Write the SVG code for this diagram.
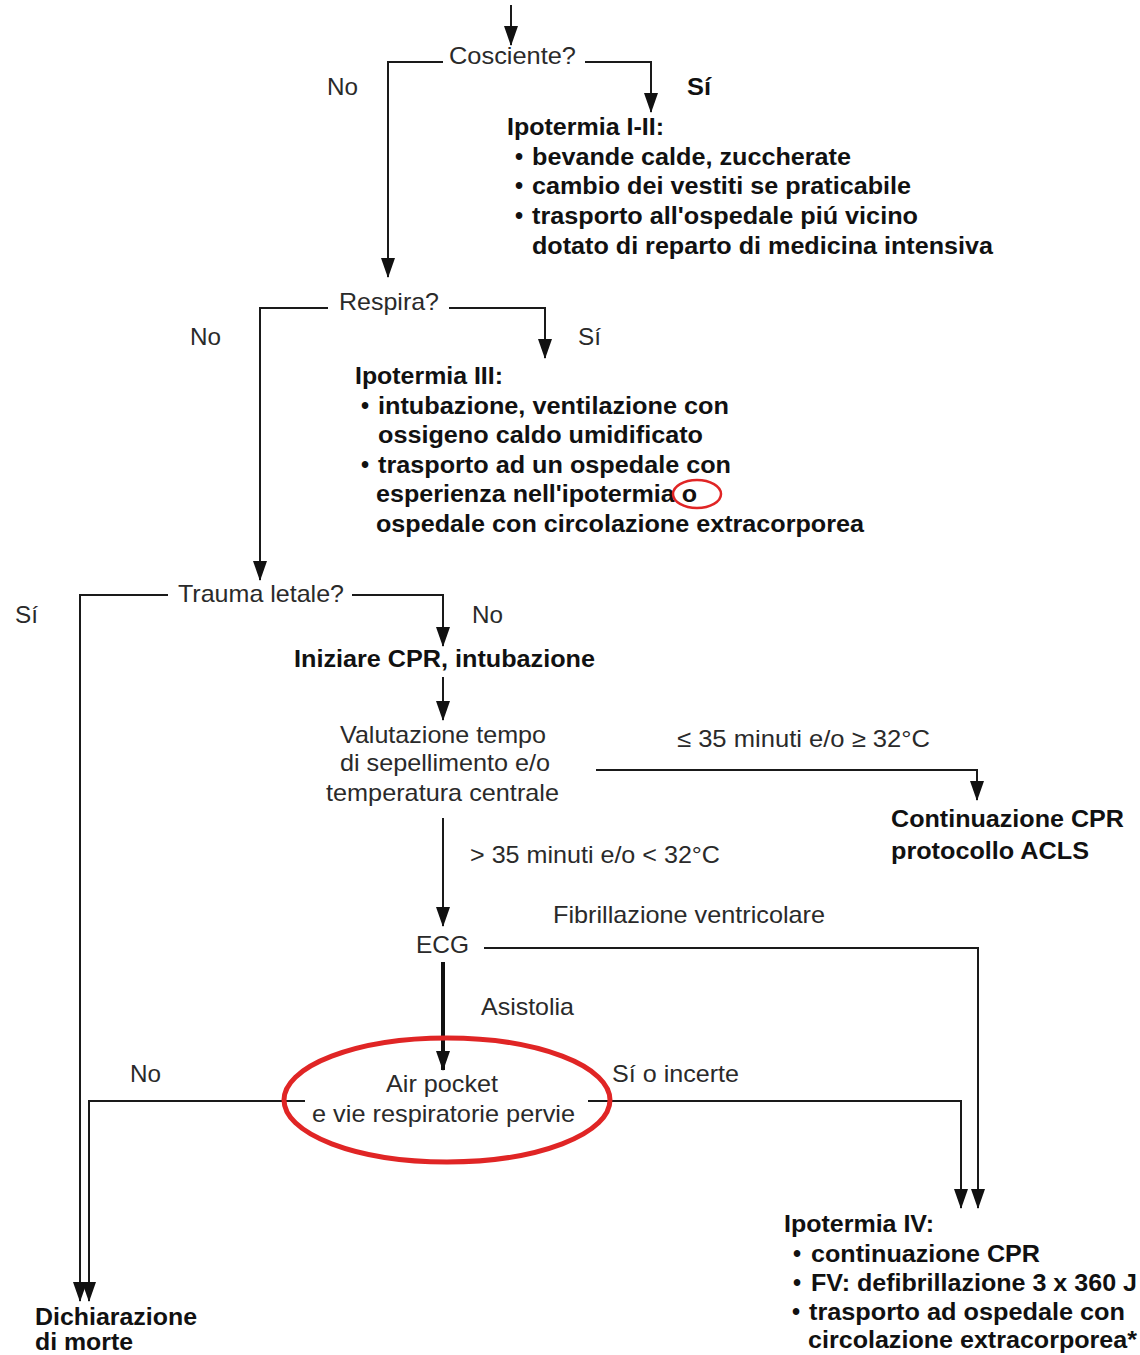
<svg xmlns="http://www.w3.org/2000/svg" width="1140" height="1355" viewBox="0 0 1140 1355">
<style>
.r{font-family:"Liberation Sans",Arial,sans-serif;font-size:24px;fill:#2a2a2a}
.b{font-family:"Liberation Sans",Arial,sans-serif;font-size:23px;font-weight:bold;fill:#111}
.c{fill:none;stroke:#1a1a1a;stroke-width:2}
.t{fill:none;stroke:#111;stroke-width:4}
.red{fill:none;stroke:#e02525}
</style>
<defs>
<marker id="ah" viewBox="0 0 20 14" refX="19" refY="7" markerWidth="20" markerHeight="14" markerUnits="userSpaceOnUse" orient="auto">
<path d="M0,0 L20,7 L0,14 z" fill="#111"/>
</marker>
</defs>
<rect width="1140" height="1355" fill="#fff"/>

<g id="connectors">
<path class="c" d="M511,5 V45" marker-end="url(#ah)"/>
<path class="c" d="M443,62 H388 V277" marker-end="url(#ah)"/>
<path class="c" d="M585,62 H651 V112" marker-end="url(#ah)"/>
<path class="c" d="M328,308 H260 V580" marker-end="url(#ah)"/>
<path class="c" d="M449,308 H545 V358" marker-end="url(#ah)"/>
<path class="c" d="M168,595 H80 V1301" marker-end="url(#ah)"/>
<path class="c" d="M352,595 H443 V646" marker-end="url(#ah)"/>
<path class="c" d="M443,677 V720" marker-end="url(#ah)"/>
<path class="c" d="M596,770 H977 V800" marker-end="url(#ah)"/>
<path class="c" d="M443,818 V926" marker-end="url(#ah)"/>
<path class="c" d="M484,948 H978 V1208" marker-end="url(#ah)"/>
<path class="t" d="M443,962 V1070" marker-end="url(#ah)"/>
<path class="c" d="M305,1101 H89 V1301" marker-end="url(#ah)"/>
<path class="c" d="M588,1101 H961 V1208" marker-end="url(#ah)"/>
</g>

<g id="cosciente"><text class="r" x="449" y="64" textLength="127" lengthAdjust="spacingAndGlyphs">Cosciente?</text></g>
<g id="label-cosciente-no"><text class="r" x="327" y="95" textLength="31" lengthAdjust="spacingAndGlyphs">No</text></g>
<g id="label-cosciente-si"><text class="b" x="687" y="95" textLength="24" lengthAdjust="spacingAndGlyphs">Sí</text></g>

<g id="ipotermia-1-2">
<text class="b" x="507" y="135" textLength="157" lengthAdjust="spacingAndGlyphs">Ipotermia I-II:</text>
<text class="b" x="515" y="165">•</text>
<text class="b" x="532" y="165" textLength="319" lengthAdjust="spacingAndGlyphs">bevande calde, zuccherate</text>
<text class="b" x="515" y="194">•</text>
<text class="b" x="532" y="194" textLength="379" lengthAdjust="spacingAndGlyphs">cambio dei vestiti se praticabile</text>
<text class="b" x="515" y="224">•</text>
<text class="b" x="532" y="224" textLength="386" lengthAdjust="spacingAndGlyphs">trasporto all'ospedale piú vicino</text>
<text class="b" x="532" y="254" textLength="461" lengthAdjust="spacingAndGlyphs">dotato di reparto di medicina intensiva</text>
</g>

<g id="respira"><text class="r" x="339" y="310" textLength="100" lengthAdjust="spacingAndGlyphs">Respira?</text></g>
<g id="label-respira-no"><text class="r" x="190" y="345" textLength="31" lengthAdjust="spacingAndGlyphs">No</text></g>
<g id="label-respira-si"><text class="r" x="578" y="345" textLength="23" lengthAdjust="spacingAndGlyphs">Sí</text></g>

<g id="ipotermia-3">
<text class="b" x="355" y="384" textLength="148" lengthAdjust="spacingAndGlyphs">Ipotermia III:</text>
<text class="b" x="361" y="414">•</text>
<text class="b" x="378" y="414" textLength="351" lengthAdjust="spacingAndGlyphs">intubazione, ventilazione con</text>
<text class="b" x="378" y="443" textLength="325" lengthAdjust="spacingAndGlyphs">ossigeno caldo umidificato</text>
<text class="b" x="361" y="473">•</text>
<text class="b" x="378" y="473" textLength="353" lengthAdjust="spacingAndGlyphs">trasporto ad un ospedale con</text>
<text class="b" x="376" y="502" textLength="321" lengthAdjust="spacingAndGlyphs">esperienza nell'ipotermia o</text>
<text class="b" x="376" y="532" textLength="488" lengthAdjust="spacingAndGlyphs">ospedale con circolazione extracorporea</text>
<ellipse class="red" cx="697" cy="494" rx="24" ry="14" stroke-width="2.5"/>
</g>

<g id="trauma"><text class="r" x="178" y="602" textLength="166" lengthAdjust="spacingAndGlyphs">Trauma letale?</text></g>
<g id="label-trauma-si"><text class="r" x="15" y="623" textLength="23" lengthAdjust="spacingAndGlyphs">Sí</text></g>
<g id="label-trauma-no"><text class="r" x="472" y="623" textLength="31" lengthAdjust="spacingAndGlyphs">No</text></g>

<g id="iniziare-cpr"><text class="b" x="294" y="667" textLength="301" lengthAdjust="spacingAndGlyphs">Iniziare CPR, intubazione</text></g>

<g id="valutazione">
<text class="r" x="340" y="743" textLength="206" lengthAdjust="spacingAndGlyphs">Valutazione tempo</text>
<text class="r" x="340" y="771" textLength="210" lengthAdjust="spacingAndGlyphs">di sepellimento e/o</text>
<text class="r" x="326" y="801" textLength="233" lengthAdjust="spacingAndGlyphs">temperatura centrale</text>
</g>
<g id="label-le35"><text class="r" x="677" y="747" textLength="253" lengthAdjust="spacingAndGlyphs">≤ 35 minuti e/o ≥ 32°C</text></g>

<g id="continuazione-cpr">
<text class="b" x="891" y="827" textLength="233" lengthAdjust="spacingAndGlyphs">Continuazione CPR</text>
<text class="b" x="891" y="859" textLength="198" lengthAdjust="spacingAndGlyphs">protocollo ACLS</text>
</g>

<g id="label-gt35"><text class="r" x="470" y="863" textLength="250" lengthAdjust="spacingAndGlyphs">&gt; 35 minuti e/o &lt; 32°C</text></g>
<g id="label-fv"><text class="r" x="553" y="923" textLength="272" lengthAdjust="spacingAndGlyphs">Fibrillazione ventricolare</text></g>

<g id="ecg"><text class="r" x="416" y="953" textLength="53" lengthAdjust="spacingAndGlyphs">ECG</text></g>
<g id="label-asistolia"><text class="r" x="481" y="1015" textLength="93" lengthAdjust="spacingAndGlyphs">Asistolia</text></g>

<g id="label-air-no"><text class="r" x="130" y="1082" textLength="31" lengthAdjust="spacingAndGlyphs">No</text></g>
<g id="label-air-si"><text class="r" x="612" y="1082" textLength="127" lengthAdjust="spacingAndGlyphs">Sí o incerte</text></g>

<g id="air-pocket">
<text class="r" x="386" y="1092" textLength="112" lengthAdjust="spacingAndGlyphs">Air pocket</text>
<text class="r" x="312" y="1122" textLength="263" lengthAdjust="spacingAndGlyphs">e vie respiratorie pervie</text>
<ellipse class="red" cx="447" cy="1100" rx="163" ry="62" stroke-width="5"/>
</g>

<g id="ipotermia-4">
<text class="b" x="784" y="1232" textLength="150" lengthAdjust="spacingAndGlyphs">Ipotermia IV:</text>
<text class="b" x="793" y="1262">•</text>
<text class="b" x="811" y="1262" textLength="229" lengthAdjust="spacingAndGlyphs">continuazione CPR</text>
<text class="b" x="793" y="1291">•</text>
<text class="b" x="811" y="1291" textLength="326" lengthAdjust="spacingAndGlyphs">FV: defibrillazione 3 x 360 J</text>
<text class="b" x="792" y="1320">•</text>
<text class="b" x="809" y="1320" textLength="316" lengthAdjust="spacingAndGlyphs">trasporto ad ospedale con</text>
<text class="b" x="808" y="1348" textLength="329" lengthAdjust="spacingAndGlyphs">circolazione extracorporea*</text>
</g>

<g id="dichiarazione-morte">
<text class="b" x="35" y="1325" textLength="162" lengthAdjust="spacingAndGlyphs">Dichiarazione</text>
<text class="b" x="35" y="1350" textLength="98" lengthAdjust="spacingAndGlyphs">di morte</text>
</g>
</svg>
